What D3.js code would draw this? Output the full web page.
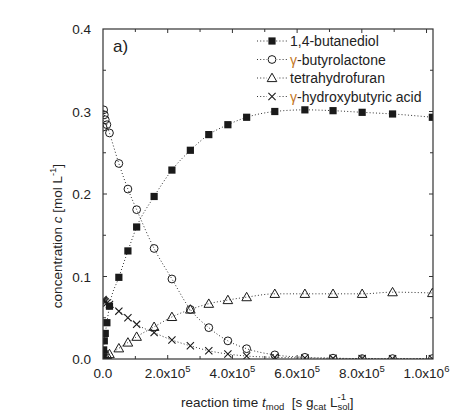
<!DOCTYPE html>
<html lang="en">
<head>
<meta charset="UTF-8">
<title>Concentration vs reaction time</title>
<script src="https://d3js.org/d3.v7.min.js"></script>
<style>
    body { margin: 0; background: #fff; }
    svg { font-family: "Liberation Sans", Arial, sans-serif; }
    .tick-label { font-size: 13.5px; fill: #222; }
    .legend-text { font-size: 14px; fill: #222; }
    .axis-title { font-size: 13.5px; fill: #222; }
</style>
</head>
<body>
<div id="chart"></div>
<script>
    // data
    const times = [0, 2e3, 4e3, 7e3, 12e3, 20e3, 49e3, 77e3, 104e3, 158e3, 213e3, 270e3,
                   327e3, 386e3, 444e3, 531e3, 624e3, 711e3, 801e3, 895e3, 1018e3];
    const butanediol = [0.002, 0.011, 0.022, 0.031, 0.044, 0.064, 0.099, 0.131, 0.160, 0.197, 0.229,
                        0.253, 0.272, 0.284, 0.293, 0.300, 0.302, 0.301, 0.299, 0.297, 0.293];
    const butyrolactone = [0.281, 0.302, 0.296, 0.290, 0.284, 0.274, 0.237, 0.206, 0.181, 0.134, 0.097,
                           0.060, 0.038, 0.022, 0.0125, 0.005, 0.002, 0.001, 0.0005, 0.0005, 0.0005];
    const tetrahydrofuran = [0.001, 0.002, 0.003, 0.004, 0.005, 0.006, 0.013, 0.020, 0.027, 0.039, 0.051,
                             0.060, 0.067, 0.0715, 0.075, 0.079, 0.079, 0.079, 0.079, 0.081, 0.080];
    const hydroxybutyric = [0.072, 0.071, 0.070, 0.069, 0.068, 0.066, 0.058, 0.050, 0.042, 0.032, 0.023,
                            0.016, 0.010, 0.006, 0.0036, 0.002, 0.0012, 0.0008, 0.0005, 0.0004, 0.0003];
    const seriesNames = ["1,4-butanediol", "butyrolactone", "tetrahydrofuran", "hydroxybutyric acid"];
    const seriesGamma = [false, true, false, true];
    const seriesMarkers = ["square", "circle", "triangle", "cross"];

    const yTickValues = [0, 0.1, 0.2, 0.3, 0.4];
    const yTickLabels = ["0.0", "0.1", "0.2", "0.3", "0.4"];
    const xTickValues = [0, 2e5, 4e5, 6e5, 8e5, 1e6];
    const xTickMantissa = ["0.0", "2.0x10", "4.0x10", "6.0x10", "8.0x10", "1.0x10"];
    const xTickExponent = ["", "5", "5", "5", "5", "6"];

    const width = 454, height = 418;
    const plotLeft = 103, plotRight = 433, plotTop = 29, plotBottom = 359;
    const ink = "#1a1a1a";
    const gammaColor = "#c2761f";

    const x = d3.scaleLinear().domain([0, 1.02e6]).range([plotLeft, plotRight]);
    const y = d3.scaleLinear().domain([0, 0.4]).range([plotBottom, plotTop]);

    const svg = d3.select("#chart").append("svg")
        .attr("width", width)
        .attr("height", height);

    svg.append("defs").append("clipPath").attr("id", "plot-clip")
        .append("rect")
        .attr("x", plotLeft).attr("y", plotTop)
        .attr("width", plotRight - plotLeft).attr("height", plotBottom - plotTop);

    // marker shapes
    function drawMarker(g, type, cx, cy) {
        if (type === "square") {
            g.append("rect").attr("x", cx - 3.6).attr("y", cy - 3.6)
                .attr("width", 7.2).attr("height", 7.2).attr("fill", ink);
        } else if (type === "circle") {
            g.append("circle").attr("cx", cx).attr("cy", cy).attr("r", 3.9)
                .attr("fill", "none").attr("stroke", ink).attr("stroke-width", 1);
        } else if (type === "triangle") {
            const s = 4.8;
            g.append("path")
                .attr("d", `M${cx},${cy - s}L${cx + s},${cy + s * 0.75}L${cx - s},${cy + s * 0.75}Z`)
                .attr("fill", "none").attr("stroke", ink).attr("stroke-width", 1);
        } else {
            const s = 3.6;
            g.append("path")
                .attr("d", `M${cx - s},${cy - s}L${cx + s},${cy + s}M${cx - s},${cy + s}L${cx + s},${cy - s}`)
                .attr("stroke", ink).attr("stroke-width", 1.1);
        }
    }

    const allSeries = [butanediol, butyrolactone, tetrahydrofuran, hydroxybutyric];
    const plot = svg.append("g").attr("clip-path", "url(#plot-clip)");

    const line = d3.line()
        .x((d, i) => x(times[i]))
        .y(d => y(d))
        .curve(d3.curveMonotoneX);

    allSeries.forEach(values => {
        plot.append("path")
            .datum(values)
            .attr("d", line)
            .attr("fill", "none")
            .attr("stroke", "#333")
            .attr("stroke-width", 1)
            .attr("stroke-dasharray", "1,2.2");
    });

    allSeries.forEach((values, k) => {
        const g = plot.append("g");
        values.forEach((v, i) => drawMarker(g, seriesMarkers[k], x(times[i]), y(v)));
    });

    // frame and inward ticks
    svg.append("rect")
        .attr("x", plotLeft).attr("y", plotTop)
        .attr("width", plotRight - plotLeft).attr("height", plotBottom - plotTop)
        .attr("fill", "none").attr("stroke", "#333").attr("stroke-width", 1.2);

    const ticks = svg.append("g").attr("stroke", "#333").attr("stroke-width", 1);
    d3.range(1e5, 1.01e6, 1e5).forEach(t => {
        const len = (Math.round(t / 1e5) % 2 === 0) ? 4 : 3;
        ticks.append("line").attr("x1", x(t)).attr("x2", x(t)).attr("y1", plotBottom).attr("y2", plotBottom - len);
        ticks.append("line").attr("x1", x(t)).attr("x2", x(t)).attr("y1", plotTop).attr("y2", plotTop + len);
    });
    d3.range(0.05, 0.4, 0.05).forEach(c => {
        const len = (Math.round(c / 0.05) % 2 === 0) ? 4 : 3;
        ticks.append("line").attr("x1", plotLeft).attr("x2", plotLeft + len).attr("y1", y(c)).attr("y2", y(c));
        ticks.append("line").attr("x1", plotRight).attr("x2", plotRight - len).attr("y1", y(c)).attr("y2", y(c));
    });

    // y tick labels
    yTickValues.forEach((v, i) => {
        svg.append("text").attr("class", "tick-label")
            .attr("x", 91).attr("y", y(v) + 5)
            .attr("text-anchor", "end")
            .text(yTickLabels[i]);
    });

    // x tick labels
    xTickValues.forEach((v, i) => {
        const t = svg.append("text").attr("class", "tick-label")
            .attr("x", x(v)).attr("y", 378)
            .attr("text-anchor", "middle");
        t.append("tspan").text(xTickMantissa[i]);
        if (xTickExponent[i]) {
            t.append("tspan").attr("dy", -6).attr("font-size", "9.5px").text(xTickExponent[i]);
        }
    });

    // x axis title
    const xt = svg.append("text").attr("class", "axis-title")
        .attr("x", 181).attr("y", 407);
    xt.append("tspan").text("reaction time ");
    xt.append("tspan").attr("font-style", "italic").text("t");
    xt.append("tspan").attr("font-size", "9.5px").attr("dy", 3).text("mod");
    xt.append("tspan").attr("dy", -3).text("\u00a0 [s g");
    xt.append("tspan").attr("font-size", "9.5px").attr("dy", 3).text("cat");
    xt.append("tspan").attr("dy", -3).text(" L");
    const sup = xt.append("tspan").attr("font-size", "9.5px").attr("dy", -7).text("-1");
    const supWidth = sup.node().getComputedTextLength();
    xt.append("tspan").attr("font-size", "9.5px").attr("dx", -supWidth).attr("dy", 10).text("sol");
    xt.append("tspan").attr("dy", -3).text("]");

    // y axis title
    const yt = svg.append("text").attr("class", "axis-title")
        .attr("transform", "translate(62,236) rotate(-90)")
        .attr("text-anchor", "middle");
    yt.append("tspan").text("concentration ");
    yt.append("tspan").attr("font-style", "italic").text("c");
    yt.append("tspan").text(" [mol L");
    yt.append("tspan").attr("font-size", "9.5px").attr("dy", -6).text("-1");
    yt.append("tspan").attr("dy", 6).text("]");

    // panel label
    svg.append("text")
        .attr("x", 113).attr("y", 52)
        .attr("font-size", "17px").attr("fill", "#222")
        .text("a)");

    // legend
    const legend = svg.append("g");
    seriesNames.forEach((name, k) => {
        const cy = 41 + k * 18.5;
        legend.append("line")
            .attr("x1", 257).attr("x2", 287).attr("y1", cy).attr("y2", cy)
            .attr("stroke", "#333").attr("stroke-width", 1).attr("stroke-dasharray", "1,2.2");
        const g = legend.append("g");
        if (seriesMarkers[k] !== "square") {
            g.append("rect").attr("x", 267).attr("y", cy - 5).attr("width", 10).attr("height", 10).attr("fill", "#fff");
        }
        drawMarker(g, seriesMarkers[k], 272, cy);
        const t = legend.append("text").attr("class", "legend-text")
            .attr("x", 290).attr("y", cy + 5);
        if (seriesGamma[k]) {
            t.append("tspan").attr("fill", gammaColor).text("\u03b3");
            t.append("tspan").text("-" + name);
        } else {
            t.text(name);
        }
    });
</script>
</body>
</html>
